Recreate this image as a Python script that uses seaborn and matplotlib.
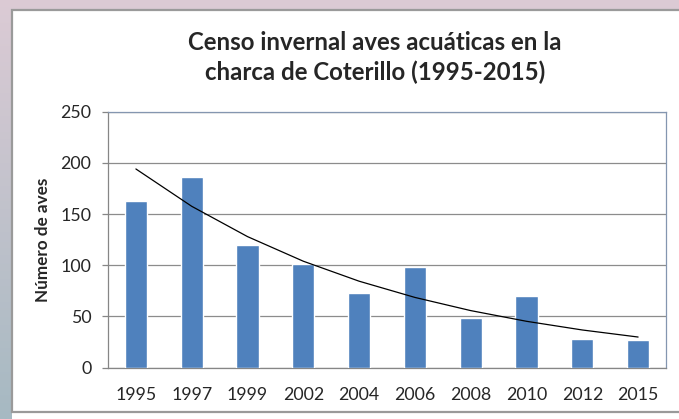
import matplotlib
matplotlib.use("Agg")
import matplotlib.pyplot as plt
import matplotlib.colors as mcolors
from matplotlib.patches import Rectangle
import numpy as np
import pandas as pd
import seaborn as sns

# datos
years = ["1995", "1997", "1999", "2002", "2004", "2006", "2008", "2010", "2012", "2015"]
birds = [163, 186, 120, 101, 73, 98, 48, 70, 27.5, 26.5]

TITLE = "Censo invernal aves acuáticas en la\ncharca de Coterillo (1995-2015)"
YLABEL = "Número de aves"
BAR_COLOR = "#4F81BD"
GRID_COLOR = "#8C8C8C"

W, H = 679, 419

sns.set_style("white")
plt.rcParams["font.family"] = ["Lato", "DejaVu Sans"]

df = pd.DataFrame({"year": years, "birds": birds})

fig = plt.figure(figsize=(W / 100, H / 100), dpi=100)

# fondo degradado + marco blanco
bg = fig.add_axes([0, 0, 1, 1], zorder=-5)
top_c = np.array(mcolors.to_rgb("#dccbd5"))
bot_c = np.array(mcolors.to_rgb("#a6b9c2"))
t = np.linspace(0, 1, 256)[:, None]
grad = (top_c[None, :] * (1 - t) + bot_c[None, :] * t)[:, None, :]
bg.imshow(grad, aspect="auto", extent=[0, 1, 0, 1])
bg.add_patch(Rectangle((12 / W, 0), 1, (H - 413) / H, facecolor="white", edgecolor="none"))
bg.add_patch(Rectangle((12 / W, (H - 412) / H), 1, (412 - 10) / H,
                       facecolor="white", edgecolor="#9a9a9a", linewidth=1.6))
bg.set_xlim(0, 1)
bg.set_ylim(0, 1)
bg.axis("off")

# área de trazado
ax = fig.add_axes([108 / W, (H - 367.5) / H, 558 / W, 255.8 / H])
sns.barplot(data=df, x="year", y="birds", color=BAR_COLOR, width=0.4,
            saturation=1, ax=ax, zorder=3)

# línea de tendencia exponencial (ajuste sobre los datos, como Excel)
idx = np.arange(1, len(birds) + 1)
b, a = np.polyfit(idx, np.log(birds), 1)
trend = np.exp(a + b * idx)
ax.plot(idx - 1, trend, color="black", linewidth=0.9, zorder=4)

ax.set_ylim(0, 250)
ax.set_yticks(range(0, 251, 50))
ax.set_xlim(-0.5, len(years) - 0.5)
ax.yaxis.grid(True, color=GRID_COLOR, linewidth=0.9, zorder=0)
ax.set_axisbelow(True)

for side in ["left", "bottom"]:
    ax.spines[side].set_color("#868686")
    ax.spines[side].set_linewidth(0.9)
ax.spines["top"].set_color("#8496b0")
ax.spines["right"].set_color("#8496b0")
ax.spines["top"].set_linewidth(0.9)
ax.spines["right"].set_linewidth(0.9)

ax.tick_params(axis="y", length=4.5, width=0.9, color="#868686", left=True,
               labelsize=12.8, labelcolor="#262626", pad=7.5)
ax.tick_params(axis="x", length=0, labelsize=12.8, labelcolor="#262626", pad=14)
ax.set_xlabel("")
ax.set_ylabel(YLABEL, fontsize=12.3, fontweight="bold", labelpad=7)

fig.text(375 / W, 1 - 57.5 / H, TITLE, ha="center", va="center",
         fontsize=17.3, fontweight="bold", linespacing=1.3)

fig.savefig("out.png", dpi=100)
